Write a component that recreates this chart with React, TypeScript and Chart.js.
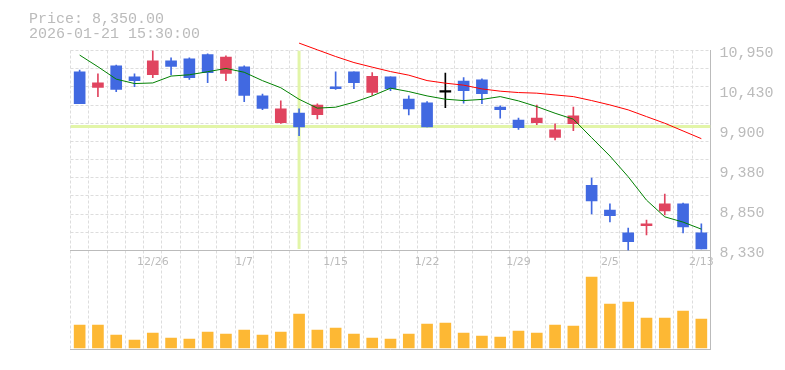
import React, { useEffect, useRef } from 'react';
import { Chart, registerables } from 'chart.js';

Chart.register(...registerables);

// ---- data ----
const dates = ['12/22','12/23','12/24','12/25','12/26','12/29','12/30','1/5','1/6','1/7','1/8','1/9','1/13','1/14','1/15','1/16','1/19','1/20','1/21','1/22','1/23','1/26','1/27','1/28','1/29','1/30','2/2','2/3','2/4','2/5','2/6','2/9','2/10','2/12','2/13'];
const xTickDates = ['12/26','1/7','1/15','1/22','1/29','2/5','2/13'];

const opens = [10670,10465,10750,10605,10635,10815,10840,10895,10650,10735,10355,10005,10130,10110,10475,10670,10400,10605,10315,10265,10415,10550,10565,10210,10040,10005,9810,9990,9185,8860,8560,8655,8850,8940,8560];
const highs = [10695,10645,10760,10645,10950,10855,10855,10905,10880,10750,10380,10290,10185,10250,10670,10670,10660,10605,10355,10280,10655,10595,10580,10225,10065,10235,9990,10210,9280,8940,8625,8730,9070,8950,8680];
const lows = [10255,10345,10410,10475,10595,10630,10570,10530,10555,10280,10175,9995,9835,10055,10440,10450,10360,10425,10105,9950,10200,10260,10255,10065,9915,9980,9780,9900,8810,8705,8330,8535,8795,8560,8350];
const closes = [10255,10525,10440,10555,10815,10740,10595,10660,10865,10360,10190,10185,9950,10235,10450,10530,10610,10450,10185,9950,10415,10425,10385,10175,9940,10065,9910,10095,8980,8785,8445,8680,8940,8640,8350];

const ma5 = [10890,10737,10575,10517,10525,10615,10632,10672,10715,10665,10555,10462,10311,10195,10207,10272,10355,10456,10412,10355,10312,10294,10309,10346,10290,10215,10128,10050,9808,9568,9296,8990,8771,8702,8610];
const ma25 = [null,null,null,null,null,null,null,null,null,null,null,null,11047,10959,10871,10792,10732,10674,10627,10556,10522,10496,10447,10417,10399,10391,10368,10346,10294,10237,10172,10084,9997,9896,9795];

const volumes = [230,230,130,80,150,100,90,160,140,180,130,160,340,180,200,140,100,90,140,240,250,150,120,110,170,150,230,220,710,440,460,300,300,370,290];

const priceTickValues = [8330, 8854, 9378, 9902, 10426, 10950];
const priceTickLabels = ['8,330','8,850','9,380','9,900','10,430','10,950'];
const priceMin = 8330;
const priceMax = 10950;
const volMin = -15;
const volMax = 975;

const crossIndex = 12;
const crossPrice = 9955;

const headerPrice = 'Price: 8,350.00';
const headerTime = '2026-01-21 15:30:00';

// ---- styles ----
const UP = '#e0445f';
const DOWN = '#4169e1';
const DOJI = '#000000';
const GRID = '#dddddd';
const AXIS = '#bbbbbb';
const TEXT = '#bbbbbb';

export default function App() {
  const ref = useRef<HTMLCanvasElement | null>(null);

  useEffect(() => {
    if (!ref.current) return;

    const colors = opens.map((o, i) => (closes[i] > o ? UP : closes[i] < o ? DOWN : DOJI));
    const bodies = opens.map((o, i) => {
      const lo = Math.min(o, closes[i]);
      const hi = Math.max(o, closes[i]);
      if (hi - lo < 20) {
        const m = (lo + hi) / 2;
        return [m - 10, m + 10];
      }
      return [lo, hi];
    });
    const wicks = lows.map((l, i) => [l, highs[i]]);

    const gridValues: number[] = [];
    for (let k = 0; k <= 11; k++) gridValues.push(priceMin + (k * (priceMax - priceMin)) / 11);
    const near = (a: number, b: number) => Math.abs(a - b) < 0.5;
    const isGrid = (v: number) => gridValues.some((g) => near(g, v));
    const labelFor = (v: number) => {
      const i = priceTickValues.findIndex((t) => near(t, v));
      return i >= 0 ? priceTickLabels[i] : '';
    };
    const allTicks = [...gridValues];
    priceTickValues.forEach((t) => {
      if (!allTicks.some((g) => near(g, t))) allTicks.push(t);
    });
    allTicks.sort((a, b) => a - b);

    const chart = new Chart(ref.current, {
      data: {
        labels: dates,
        datasets: [
          {
            type: 'line', label: 'MA5', data: ma5, borderColor: '#008000', borderWidth: 1,
            pointRadius: 0, yAxisID: 'y', xAxisID: 'x', order: 1,
          },
          {
            type: 'line', label: 'MA25', data: ma25 as any, borderColor: '#ff0000', borderWidth: 1,
            pointRadius: 0, yAxisID: 'y', xAxisID: 'x', order: 1, clip: false as any,
          },
          {
            type: 'bar', label: 'body', data: bodies as any, backgroundColor: colors,
            barThickness: 11, grouped: false, yAxisID: 'y', xAxisID: 'x', order: 2,
          },
          {
            type: 'bar', label: 'wick', data: wicks as any, backgroundColor: colors,
            barThickness: 1, grouped: false, yAxisID: 'y', xAxisID: 'x', order: 3,
          },
          {
            type: 'bar', label: 'volume', data: volumes, backgroundColor: '#fdb834',
            barThickness: 11, grouped: false, yAxisID: 'yVol', xAxisID: 'x', order: 4,
          },
          {
            type: 'line', label: 'crossH',
            data: [{ x: -0.5, y: crossPrice }, { x: dates.length - 0.5, y: crossPrice }] as any,
            xAxisID: 'xl', yAxisID: 'y', borderColor: '#e2f5a8', borderWidth: 3, pointRadius: 0, order: 10,
          },
          {
            type: 'line', label: 'crossV',
            data: [{ x: crossIndex, y: priceMax }, { x: crossIndex, y: priceMin + 20 }] as any,
            xAxisID: 'xl', yAxisID: 'y', borderColor: '#e2f5a8', borderWidth: 3, pointRadius: 0, order: 10,
          },
        ],
      },
      options: {
        responsive: false,
        animation: false,
        events: [],
        layout: { padding: { left: 70.5, top: 50.5, right: 2.5, bottom: 20.5 } },
        plugins: { legend: { display: false }, tooltip: { enabled: false }, title: { display: false } },
        scales: {
          x: {
            type: 'category', position: 'bottom', offset: true,
            grid: { display: true, offset: true, color: GRID, lineWidth: 1, drawTicks: false },
            border: { display: true, color: AXIS, dash: [3, 2] },
            ticks: { display: false },
          },
          x2: {
            type: 'category', position: { y: priceMin } as any, offset: true,
            grid: { display: false, drawTicks: false },
            border: { display: true, color: AXIS },
            ticks: {
              autoSkip: false, maxRotation: 0, minRotation: 0, padding: 5, color: TEXT,
              font: { family: '"DejaVu Sans", sans-serif', size: 11 },
              callback: (_v: any, i: number) => (xTickDates.includes(dates[i]) ? dates[i] : ''),
            },
          },
          xl: { type: 'linear', display: false, min: -0.5, max: dates.length - 0.5 },
          y: {
            type: 'linear', position: 'right', stack: 'v', stackWeight: 200,
            min: priceMin, max: priceMax,
            afterBuildTicks: (scale: any) => {
              scale.ticks = allTicks.map((v) => ({ value: v }));
            },
            grid: {
              drawTicks: false,
              color: (ctx: any) => (ctx.tick && isGrid(ctx.tick.value) ? GRID : 'rgba(0,0,0,0)'),
            },
            border: { display: true, color: AXIS, dash: [3, 2] },
            ticks: {
              autoSkip: false, padding: 9, labelOffset: 2.5, color: TEXT,
              font: { family: '"Liberation Mono", monospace', size: 15 },
              callback: (v: any) => labelFor(Number(v)),
            },
          },
          yVol: {
            type: 'linear', position: 'right', stack: 'v', stackWeight: 99,
            min: volMin, max: volMax,
            grid: { display: false, drawTicks: false },
            border: { display: true, color: AXIS },
            ticks: { display: false },
          },
        } as any,
      },
    } as any);

    return () => chart.destroy();
  }, []);

  const textStyle: React.CSSProperties = {
    position: 'absolute', left: 29, font: '15px "Liberation Mono", monospace',
    lineHeight: '15px', color: TEXT, whiteSpace: 'pre',
  };

  return (
    <div style={{ position: 'fixed', left: 0, top: 0, width: 785, height: 370, background: '#fff' }}>
      <canvas ref={ref} width={785} height={370} style={{ display: 'block', width: 785, height: 370 }} />
      <div style={{ ...textStyle, top: 12 }}>{headerPrice}</div>
      <div style={{ ...textStyle, top: 27 }}>{headerTime}</div>
    </div>
  );
}
